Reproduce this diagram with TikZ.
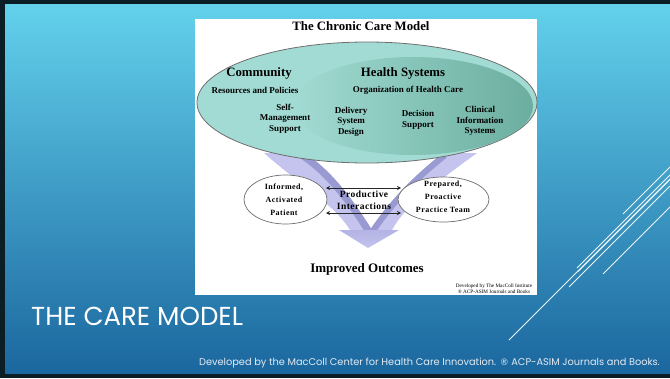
\documentclass[tikz,border=0pt]{standalone}
\usepackage{fontspec}
\setmainfont{Liberation Serif}
\newfontfamily\gothic{Poppins}
\newfontfamily\symfont{DejaVu Sans}
\usetikzlibrary{shapes.geometric,arrows.meta}
\definecolor{framec}{HTML}{0B1E26}
\definecolor{bgtop}{HTML}{63D1EC}
\definecolor{bgmid}{HTML}{3A9DCC}
\definecolor{bgbot}{HTML}{1B679F}
\definecolor{tealO}{HTML}{A2DBD3}
\definecolor{tealL}{HTML}{A0D9D0}
\definecolor{tealD}{HTML}{6BAE9F}
\definecolor{edgec}{HTML}{6E6E6E}
\definecolor{lavL}{HTML}{C4C4EE}
\definecolor{lavD}{HTML}{9A9AD3}
\definecolor{lavM}{HTML}{B3B3E4}
\definecolor{footc}{HTML}{E2EAF2}
\begin{document}
\begin{tikzpicture}[x=1pt,y=-1pt,
  deco/.style={draw=white!92!cyan,line width=0.9pt},
  bigell/.style={ellipse,draw=edgec,line width=0.8pt,fill=tealO,inner sep=0pt},
  smallell/.style={ellipse,draw=edgec,line width=0.7pt,fill=white,inner sep=0pt},
  hdr/.style={font=\fontsize{12.8}{14}\selectfont\bfseries},
  sub/.style={font=\fontsize{9}{10.5}\selectfont\bfseries,align=center},
  lbl/.style={font=\fontsize{8}{13}\selectfont\bfseries\addfontfeature{LetterSpace=6},align=center},
  pint/.style={font=\fontsize{9.5}{12}\selectfont\bfseries\addfontfeature{LetterSpace=5},align=center},
  dbl/.style={{Stealth[length=4pt,width=4pt]}-{Stealth[length=4pt,width=4pt]},line width=0.9pt,draw=black!85}
]
\useasboundingbox (0,0) rectangle (670,378);
\fill[framec] (0,0) rectangle (670,378);
\shade[top color=bgtop,middle color=bgmid,bottom color=bgbot] (5,4) rectangle (670,373);

% decorative lines
\draw[deco] (509,340) -- (670,179);
\draw[deco] (577,268) -- (670,175);
\draw[deco] (578,271.5) -- (670,179.5);
\draw[deco] (569,287) -- (670,186);
\draw[deco] (623,214) -- (670,167);
\draw[deco] (603,274) -- (670,207);

% white panel
\fill[white] (195,19) rectangle (537,295);

% converging arrows
\begin{scope}
\clip (264,153) .. controls (300,185) and (335,205) .. (350,230) -- (372,230)
  .. controls (350,195) and (330,170) .. (305,153) -- cycle;
\fill[lavL] (250,140) rectangle (400,240);
\draw[lavD,line width=14pt] (372,230) .. controls (350,195) and (330,170) .. (305,153);
\end{scope}
\begin{scope}
\clip (477,153) .. controls (440,180) and (405,205) .. (392,230) -- (370,230)
  .. controls (390,200) and (415,175) .. (443,153) -- cycle;
\fill[lavL] (350,140) rectangle (490,240);
\draw[lavD,line width=12pt] (370,230) .. controls (390,200) and (415,175) .. (443,153);
\end{scope}
\shade[top color=lavM,bottom color=lavL]
  (339,230) -- (399,230) -- (368,248) -- cycle;

% big ellipse
\node[bigell,minimum width=340pt,minimum height=121pt] (cm) at (367,102.5) {};
\shade[left color=tealO,right color=tealD] (413,106) ellipse [x radius=120pt,y radius=49pt];

\node[hdr] (title) at (361,26) {The Chronic Care Model};
\node[hdr] (comm) at (259,73) {Community};
\node[hdr] (hs) at (403,73) {Health Systems};
\node[sub] (rp) at (255,90) {Resources and Policies};
\node[sub] (ohc) at (408,90) {Organization of Health Care};
\node[sub] (sms) at (285,118.5) {Self-\\Management\\Support};
\node[sub] (dsd) at (351,121.5) {Delivery\\System\\Design};
\node[sub] (ds) at (418,120) {Decision\\Support};
\node[sub] (cis) at (480,121) {Clinical\\Information\\Systems};

% small ellipses
\node[smallell,minimum width=83pt,minimum height=49pt] (pat) at (285.5,199.5) {};
\node[smallell,minimum width=91pt,minimum height=45pt] (team) at (443.5,199.5) {};
\node[lbl] (patt) at (284,199.5) {Informed,\\Activated\\Patient};
\node[lbl] (teamt) at (443,196.5) {Prepared,\\Proactive\\Practice Team};

% productive interactions
\coordinate (a1) at (326,188);
\coordinate (b1) at (401,188);
\coordinate (a2) at (326,213);
\coordinate (b2) at (401,213);
\draw[dbl] (a1) -- (b1);
\draw[dbl] (a2) -- (b2);
\node[pint] (pi) at (364,200) {Productive\\Interactions};

\node[font=\fontsize{13}{15}\selectfont\bfseries] (io) at (367,269) {Improved Outcomes};
\node[font=\fontsize{5.2}{5.8}\selectfont,align=center] (cred) at (494,288.5) {Developed by The MacColl Institute\\® ACP-ASIM Journals and Books};

% slide texts
\node[anchor=base west,text=white,font=\gothic\fontsize{26}{30}\selectfont,inner sep=0pt] (ttl) at (31,325) {THE CARE MODEL};
\node[anchor=base east,text=footc,font=\gothic\fontsize{9.8}{11}\selectfont,inner sep=0pt] (foot) at (660,365.5) {Developed by the MacColl Center for Health Care Innovation. {\symfont\fontsize{9}{11}\selectfont ®} ACP-ASIM  Journals and Books.};
\end{tikzpicture}
\end{document}
